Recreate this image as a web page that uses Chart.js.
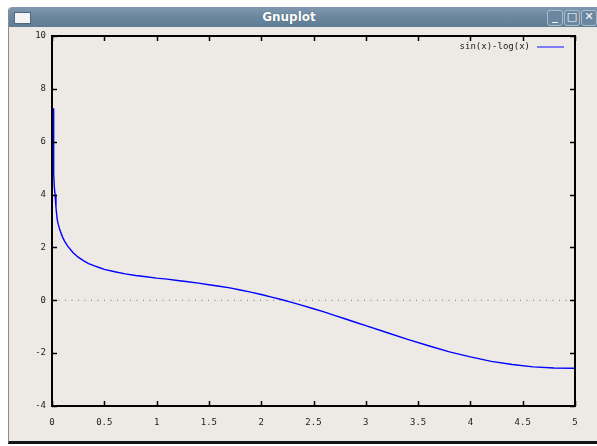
<!DOCTYPE html>
<html>
<head>
<meta charset="utf-8">
<script src="https://cdn.jsdelivr.net/npm/chart.js@4/dist/chart.umd.min.js"></script>
<style>
body{margin:0;background:#fff;width:597px;height:446px;overflow:hidden;position:relative;}
.win{position:absolute;left:8px;top:7px;width:600px;height:434px;background:#edeae5;border-left:1px solid #8c8c8c;border-bottom:3px solid #141414;border-top-left-radius:4px;}
.bar{position:absolute;left:0;top:0;right:0;height:20px;background:linear-gradient(#8199b0,#6a879f 50%,#5f7c95);border-top-left-radius:4px;}
.bar .title{position:absolute;left:230px;width:100px;top:3px;text-align:center;color:#fff;font:bold 12px "DejaVu Sans",sans-serif;text-shadow:0 0 1px #345;}
.bar .icon{position:absolute;left:5px;top:5px;width:15px;height:10px;background:#f4f4f4;border:1px solid #4d6880;}
.btn{position:absolute;top:3px;width:14px;height:14px;border:1px solid #a9bccc;border-radius:3px;background:#6a879f;}
.btn span{position:absolute;left:0;right:0;top:-1px;text-align:center;color:#fff;font:bold 11px "DejaVu Sans",sans-serif;}
canvas{position:absolute;left:0;top:0;}
</style>
</head>
<body>
<div class="win">
  <div class="bar">
    <div class="icon"></div>
    <div class="title">Gnuplot</div>
    <div class="btn" style="left:538px"><span>_</span></div>
    <div class="btn" style="left:555px"><span>&#9633;</span></div>
    <div class="btn" style="left:572px"><span>&#10005;</span></div>
  </div>
</div>
<canvas id="myChart" width="597" height="446"></canvas>
<script>
// values
const xValues = [0.014, 0.016, 0.022, 0.029, 0.038, 0.05, 0.06, 0.07, 0.08, 0.1, 0.12, 0.15, 0.2, 0.25, 0.3, 0.35, 0.4, 0.45, 0.5,
  0.6, 0.7, 0.8, 0.9, 1.0, 1.1, 1.2, 1.3, 1.4, 1.5, 1.6, 1.7, 1.8, 1.9, 2.0, 2.1, 2.2, 2.3, 2.4, 2.5, 2.6, 2.7, 2.8, 2.9, 3.0,
  3.2, 3.4, 3.6, 3.8, 4.0, 4.2, 4.4, 4.6, 4.8, 5.0];
const yValues = [7.27, 4.78, 4.3, 4.0, 3.5, 3.05, 2.87, 2.73, 2.61, 2.40, 2.24, 2.05, 1.81, 1.63, 1.50, 1.39, 1.31, 1.24, 1.17,
  1.08, 1.00, 0.94, 0.89, 0.84, 0.80, 0.75, 0.70, 0.65, 0.59, 0.53, 0.47, 0.39, 0.31, 0.22, 0.12, 0.02, -0.09, -0.20, -0.32, -0.44, -0.57, -0.70, -0.83, -0.96,
  -1.22, -1.48, -1.72, -1.95, -2.14, -2.31, -2.43, -2.52, -2.56, -2.57];
const zeroLine = [{x: 0, y: 0}, {x: 5, y: 0}];
const seriesName = "sin(x)-log(x)";
const xRange = [0, 5];
const yRange = [-4, 10];

const monoFont = {family: '"DejaVu Sans Mono", monospace', size: 9};

// gnuplot style frame with inward ticks on every side, plus the key
const framePlugin = {
  id: "frame",
  afterDraw(chart){
    const ctx = chart.ctx;
    const a = chart.chartArea;
    const xs = chart.scales.x, ys = chart.scales.y;
    ctx.save();
    ctx.strokeStyle = "#000";
    ctx.lineWidth = 2;
    ctx.strokeRect(a.left, a.top, a.right - a.left, a.bottom - a.top);
    ctx.lineWidth = 1.5;
    ctx.beginPath();
    xs.ticks.forEach(t => {
      let px = Math.round(xs.getPixelForValue(t.value)) + 0.5;
      ctx.moveTo(px, a.bottom); ctx.lineTo(px, a.bottom - 5);
      ctx.moveTo(px, a.top); ctx.lineTo(px, a.top + 5);
    });
    ys.ticks.forEach(t => {
      let py = Math.round(ys.getPixelForValue(t.value)) + 0.5;
      ctx.moveTo(a.left, py); ctx.lineTo(a.left + 5, py);
      ctx.moveTo(a.right, py); ctx.lineTo(a.right - 5, py);
    });
    ctx.stroke();
    // key
    ctx.font = '9px "DejaVu Sans Mono", monospace';
    ctx.fillStyle = "#1a1a1a";
    ctx.textAlign = "right";
    ctx.textBaseline = "middle";
    ctx.fillText(seriesName, a.right - 45, a.top + 11);
    ctx.strokeStyle = "#3333ff";
    ctx.lineWidth = 1.2;
    ctx.beginPath();
    ctx.moveTo(a.right - 38, a.top + 11);
    ctx.lineTo(a.right - 11, a.top + 11);
    ctx.stroke();
    ctx.restore();
  }
};

const ctx = document.getElementById("myChart").getContext("2d");
const myChart = new Chart(ctx, {
  type: "line",
  data: {
    datasets: [{
      label: seriesName,
      data: xValues.map((x, i) => ({x: x, y: yValues[i]})),
      borderColor: "#0000ff",
      borderWidth: 1.4,
      pointRadius: 0,
      tension: 0,
      fill: false,
    }, {
      label: "zero",
      data: zeroLine,
      borderColor: "#777",
      borderWidth: 1,
      borderDash: [1, 5.5],
      pointRadius: 0,
      fill: false,
    }],
  },
  options: {
    responsive: false,
    animation: false,
    devicePixelRatio: 1,
    layout: {padding: {top: 36, right: 22, left: 0, bottom: 0}},
    plugins: {legend: {display: false}, tooltip: {enabled: false}},
    scales: {
      x: {
        type: "linear",
        min: xRange[0], max: xRange[1],
        grid: {display: false, drawTicks: false},
        border: {display: false},
        ticks: {stepSize: 0.5, padding: 11, color: "#222", font: monoFont, maxRotation: 0, autoSkip: false,
          callback: v => String(v)},
        afterFit: scale => { scale.height = 40; },
      },
      y: {
        min: yRange[0], max: yRange[1],
        grid: {display: false, drawTicks: false},
        border: {display: false},
        ticks: {stepSize: 2, padding: 6, color: "#222", font: monoFont,
          callback: v => String(v)},
        afterFit: scale => { scale.width = 52; },
      },
    },
  },
  plugins: [framePlugin],
});
</script>
</body>
</html>
